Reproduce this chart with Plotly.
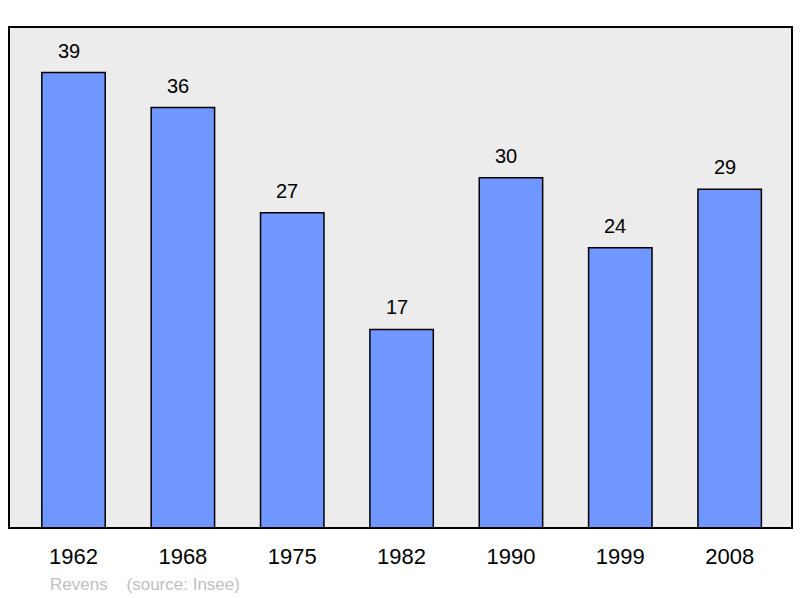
import plotly.graph_objects as go

years = ["1962", "1968", "1975", "1982", "1990", "1999", "2008"]
population = [39, 36, 27, 17, 30, 24, 29]
source_label = "Revens    (source: Insee)"

bar_color = "#7097ff"
font_family = "Liberation Sans, Arial, sans-serif"

W, H = 800, 598
ML, MR, MT, MB = 9, 8, 27, 70
plot_w = W - ML - MR
plot_h = H - MT - MB

fig = go.Figure()
fig.add_trace(go.Bar(
    x=list(range(len(years))),
    y=population,
    width=0.58,
    marker=dict(color=bar_color, line=dict(color="#000000", width=1.5)),
    hoverinfo="skip",
))

for i, v in enumerate(population):
    fig.add_annotation(
        x=i, y=v, xref="x", yref="y", text=str(v), showarrow=False,
        yanchor="bottom", yshift=9, xshift=-5,
        font=dict(family=font_family, size=20, color="#000000"),
    )

fig.add_annotation(
    x=(48 - ML) / plot_w, y=(H - MB - 584) / plot_h, xref="paper", yref="paper",
    text=source_label, showarrow=False,
    xanchor="left", yanchor="middle",
    font=dict(family=font_family, size=17, color="#c0c0c0"),
)

fig.update_layout(
    width=W, height=H,
    margin=dict(l=ML, r=MR, t=MT, b=MB),
    paper_bgcolor="#ffffff",
    plot_bgcolor="#ececec",
    showlegend=False,
    xaxis=dict(
        tickmode="array", tickvals=list(range(len(years))), ticktext=years,
        range=[-0.59, 6.57], showgrid=False, zeroline=False,
        ticks="", ticklabelstandoff=13,
        tickfont=dict(family=font_family, size=22, color="#000000"),
        showline=False,
    ),
    yaxis=dict(range=[0, 42.9], showgrid=False, zeroline=False,
               showticklabels=False, ticks="", showline=False),
    shapes=[dict(type="rect", xref="paper", yref="paper", x0=0, x1=1, y0=0, y1=1,
                 line=dict(color="#000000", width=2), fillcolor="rgba(0,0,0,0)", layer="above")],
)

fig.write_html("out.html", config={"displayModeBar": False},
               post_script="document.body.style.margin='0';")
